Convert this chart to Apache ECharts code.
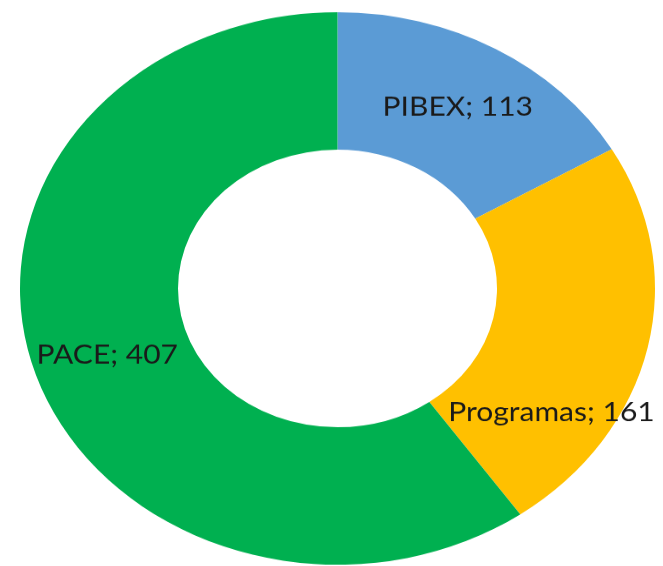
<!DOCTYPE html>
<html>
<head>
<meta charset="utf-8">
<script src="https://cdn.jsdelivr.net/npm/echarts@6/dist/echarts.min.js"></script>
<style>
  html, body { margin: 0; padding: 0; background: #fff; overflow: hidden; }
  #wrap { width: 663px; height: 566px; overflow: hidden; }
  /* the source picture is squashed vertically, so the circle becomes an ellipse */
  #donut { width: 663px; height: 651px; transform: scaleY(0.87); transform-origin: 0 0; }
</style>
</head>
<body>
<div id="wrap"><div id="donut"></div></div>
<script>
const categories = ['PIBEX', 'Programas', 'PACE'];
const values = [113, 161, 407];
const colors = ['#5B9BD5', '#FFC000', '#00B050'];
const labelOffsets = [[0, 1], [-22, 91], [0, 4]];

const chart = echarts.init(document.getElementById('donut'));

chart.setOption({
  animation: false,
  series: [
    {
      type: 'pie',
      center: [337.5, 331.6],
      radius: [159.5, 317.5],
      startAngle: 90,
      clockwise: true,
      avoidLabelOverlap: false,
      itemStyle: { borderWidth: 0 },
      label: {
        show: true,
        position: 'inside',
        formatter: p => p.name + '; ' + p.value,
        color: '#1a1a1a',
        fontFamily: 'Lato',
        fontSize: 30
      },
      labelLine: { show: false },
      emphasis: { disabled: true },
      data: categories.map((name, i) => ({
        name: name,
        value: values[i],
        itemStyle: { color: colors[i] },
        label: { offset: labelOffsets[i] }
      }))
    }
  ]
});
</script>
</body>
</html>
